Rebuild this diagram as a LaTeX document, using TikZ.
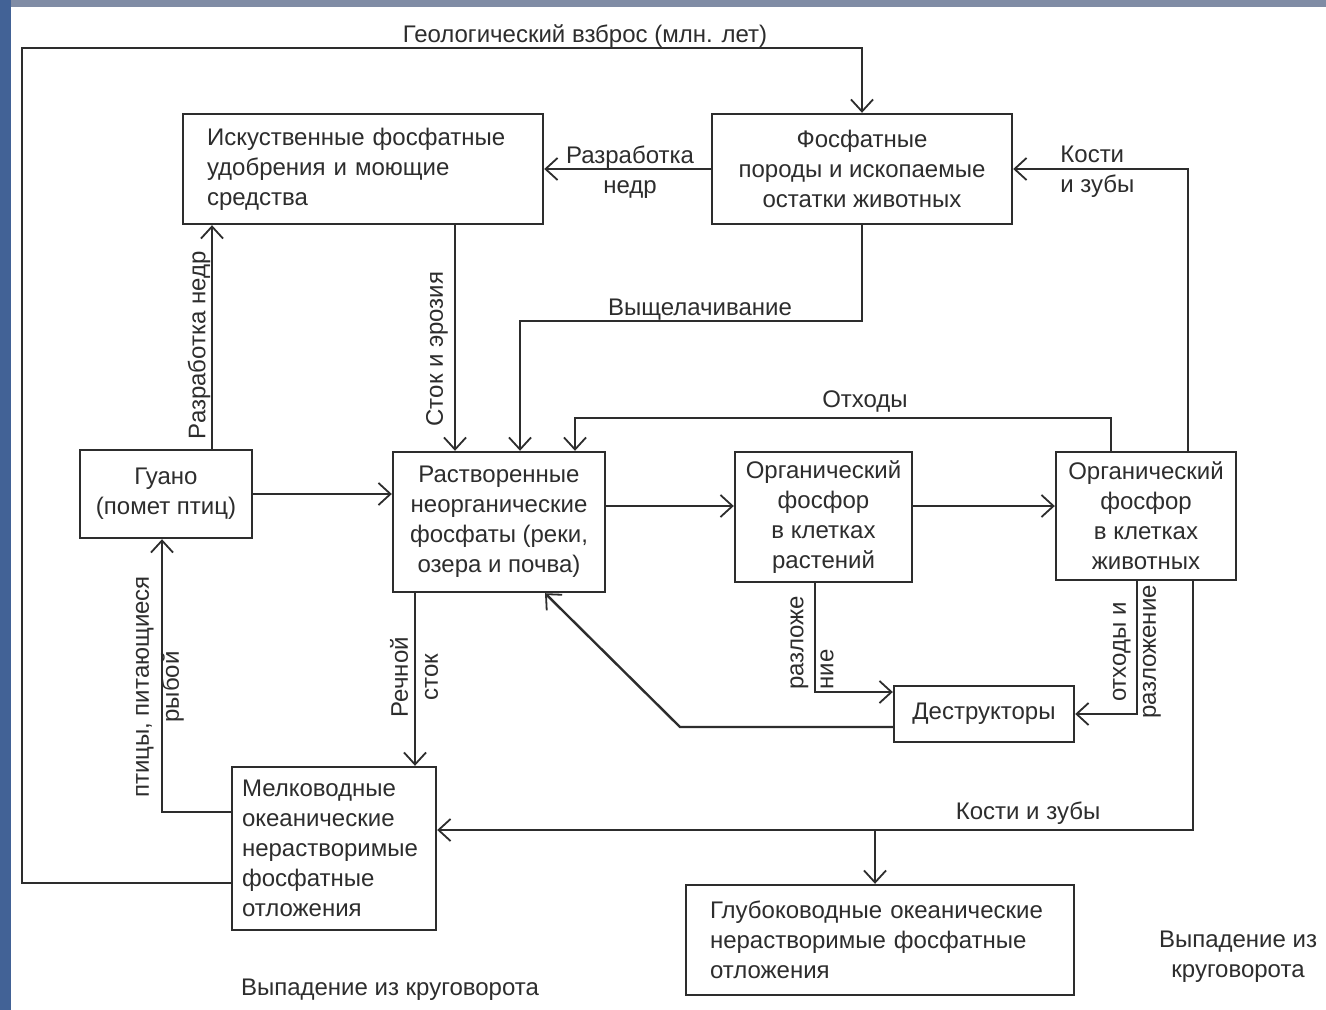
\documentclass[tikz,border=0pt]{standalone}
\usepackage{fontspec}
\setmainfont{Liberation Sans}
\usetikzlibrary{arrows.meta}
\definecolor{ink}{RGB}{45,45,45}
\definecolor{sky}{RGB}{66,98,150}
\definecolor{skytop}{RGB}{128,140,165}

\begin{document}
\begin{tikzpicture}[x=0.5pt, y=-0.5pt,
	box/.style={draw=ink, line width=1.2pt, text=ink, font=\fontsize{12}{15}\selectfont, inner sep=0pt},
	lbl/.style={text=ink, font=\fontsize{12}{15}\selectfont, inner sep=1pt},
	flow/.style={draw=ink, line width=1.2pt, -{Straight Barb[length=6pt,width=11pt,line width=0.9pt]}},
	link/.style={draw=ink, line width=1.2pt}]
	% frame
	\fill[sky] (0,0) rectangle (1326,1010);
	\fill[skytop] (11,0) rectangle (1326,7);
	\fill[white] (11,7) rectangle (1326,1010);
	\useasboundingbox (0,0) rectangle (1326,1010);

	\node[box, minimum width=180pt, minimum height=55pt, text width=156pt, align=left] (fert) at (363,169) {Искуственные фосфатные\\удобрения и моющие\\средства};
	\node[box, minimum width=150pt, minimum height=55pt, align=center] (rock) at (862,169) {Фосфатные\\породы и ископаемые\\остатки животных};
	\node[box, minimum width=86pt, minimum height=44pt, align=center] (guano) at (166,494) {Гуано\\(помет птиц)};
	\node[box, minimum width=106pt, minimum height=70pt, align=center] (solv) at (499,522) {Растворенные\\неорганические\\фосфаты (реки,\\озера и почва)};
	\node[box, minimum width=88.5pt, minimum height=65pt, align=center] (plant) at (823.5,517) {Органический\\фосфор\\в клетках\\растений};
	\node[box, minimum width=90pt, minimum height=64pt, align=center] (anim) at (1146,516) {Органический\\фосфор\\в клетках\\животных};
	\node[box, minimum width=90pt, minimum height=28pt] (decomp) at (984,714) {Деструкторы};
	\node[box, minimum width=102pt, minimum height=81.5pt, text width=92pt, align=left] (shallow) at (334,848.5) {Мелководные\\океанические\\нерастворимые\\фосфатные\\отложения};
	\node[box, minimum width=194pt, minimum height=55pt, text width=170pt, align=left] (deep) at (880,940) {Глубоководные океанические\\нерастворимые фосфатные\\отложения};

	% labels
	\node[lbl] (l-geo) at (585,36) {Геологический взброс (млн. лет)};
	\node[lbl, align=center] (l-mine) at (630,172) {Разработка\\недр};
	\node[lbl, align=left, anchor=west] (l-bones) at (1058,172) {Кости\\и зубы};
	\node[lbl] (l-leach) at (700,310) {Выщелачивание};
	\node[lbl] (l-waste) at (865,402) {Отходы};
	\node[lbl, rotate=90] (l-erosion) at (437,349) {Сток и эрозия};
	\node[lbl, rotate=90] (l-mine2) at (199,345) {Разработка недр};
	\node[lbl, rotate=90, align=left, anchor=west] (l-decay) at (812,692) {разложе\\ние};
	\node[lbl, rotate=90, align=center] (l-decay2) at (1137,652) {отходы и\\разложение};
	\node[lbl, rotate=90, align=center] (l-river) at (414,677) {Речной\\сток};
	\node[lbl, rotate=90, align=center] (l-birds) at (160,687) {птицы, питающиеся\\рыбой};
	\node[lbl] (l-bones2) at (1028,813) {Кости и зубы};
	\node[lbl] (l-out1) at (390,990) {Выпадение из круговорота};
	\node[lbl, align=center] (l-out2) at (1238,957) {Выпадение из\\круговорота};

	% shallow deposits
	\draw[flow] (shallow.west |- 0,883) -| (22,48) -| (rock.north);
	\draw[flow] (shallow.west |- 0,812) -| (guano.south -| 162,0);
	% rocks
	\draw[flow] (rock.west) -- (fert.east);
	\draw[flow] (rock.south) |- (520,321) -- (solv.north -| 520,0);
	% fertilizers
	\draw[flow] (fert.south -| 455,0) -- (solv.north -| 455,0);
	% guano
	\draw[flow] (guano.north -| 212,0) -- (fert.south -| 212,0);
	\draw[flow] (guano.east) -- (solv.west |- guano.east);
	% dissolved
	\draw[flow] (solv.east |- 0,506) -- (plant.west |- 0,506);
	\draw[flow] (solv.south -| 415,0) -- (shallow.north -| 415,0);
	% plants
	\draw[flow] (plant.east |- 0,506) -- (anim.west |- 0,506);
	\draw[flow] (plant.south -| 815,0) |- (decomp.west |- 0,692);
	% animals
	\draw[flow] (anim.north -| 1188,0) |- (rock.east);
	\draw[flow] (anim.north -| 1111,0) |- (575,418) -- (solv.north -| 575,0);
	\draw[flow] (anim.south -| 1137,0) |- (decomp.east);
	\draw[flow] (anim.south -| 1193,0) |- (shallow.east |- 0,830);
	\coordinate (split) at (875,830);
	\draw[flow] (split) -- (deep.north -| split);
	% decomposers
	\draw[flow] (decomp.west |- 0,727) -- (680,727) -- (solv.south -| 545,0);
\end{tikzpicture}
\end{document}
